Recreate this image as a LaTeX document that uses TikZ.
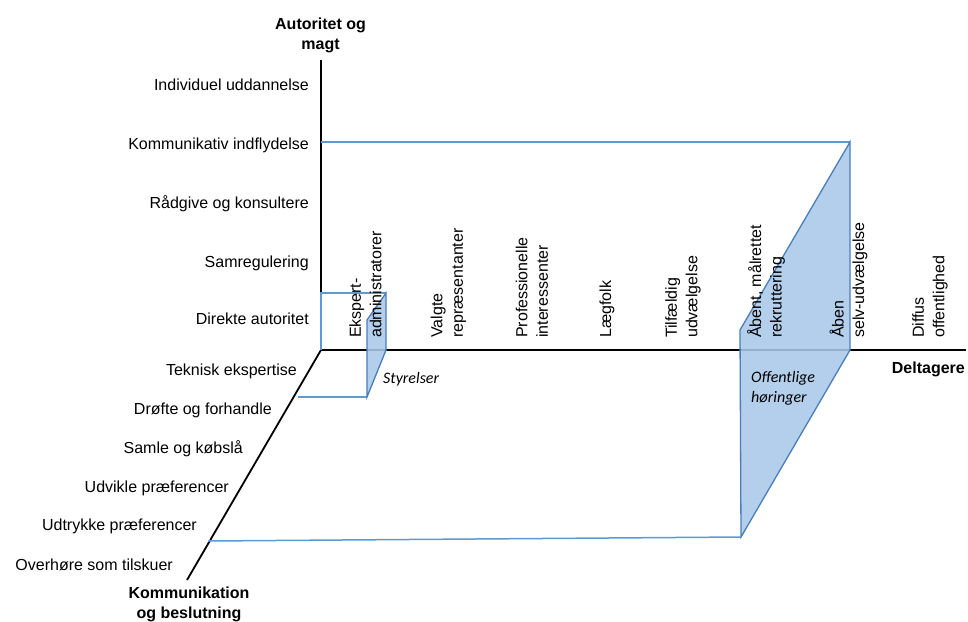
\documentclass[tikz,border=0pt]{standalone}
\usepackage{fontspec}
\setmainfont{Liberation Sans}
\newfontfamily\calib{Carlito}
\definecolor{blueline}{RGB}{91,155,213}
\definecolor{blueedge}{RGB}{74,126,187}
\definecolor{bluefill}{RGB}{168,200,233}
\begin{document}
\begin{tikzpicture}[x=1pt,y=-1pt,
  axis/.style={line width=1.8pt, black},
  bline/.style={line width=1.5pt, blueline},
  bshape/.style={line width=1.3pt, draw=blueedge, fill=bluefill, fill opacity=0.88},
  lab/.style={font=\fontsize{16}{19}\selectfont, inner sep=0pt, anchor=base east},
  rlab/.style={font=\fontsize{16}{20.5}\selectfont, inner sep=0pt, rotate=90, anchor=west, align=left},
  ttl/.style={font=\fontsize{16}{19.5}\selectfont\bfseries, inner sep=0pt, align=center},
  ital/.style={font=\calib\itshape\fontsize{16}{20}\selectfont, inner sep=0pt, align=left}]
\useasboundingbox (0,0) rectangle (968,621);
% axes
\coordinate (O) at (321,350);
\coordinate (Ytop) at (321,60);
\coordinate (Xend) at (966,350);
\coordinate (Zend) at (187,580);
\draw[axis] (Ytop) -- (O) -- (Xend);
\draw[axis] (O) -- (Zend);
% big shape (Offentlige hoeringer)
\coordinate (B1) at (321,142);
\coordinate (B2) at (850,142);
\coordinate (B3) at (850,350);
\coordinate (B4) at (741,537);
\coordinate (B5) at (740,330);
\coordinate (B6) at (208,541);
\draw[bline] (B1) -- (B2);
\draw[bline] (B4) -- (B6);
\draw[bshape] (B5) -- (B2) -- (B3) -- (B4) -- cycle;
% small shape (Styrelser)
\coordinate (S1) at (321,293);
\coordinate (S2) at (386,293);
\coordinate (S3) at (386,350);
\coordinate (S4) at (367,397);
\coordinate (S5) at (367,320);
\coordinate (S6) at (298,397);
\coordinate (S0) at (321,350);
\draw[bline] (S0) -- (S1) -- (S2);
\draw[bline] (S4) -- (S6);
\draw[bshape] (S5) -- (S2) -- (S3) -- (S4) -- cycle;
% axis titles
\node[ttl, anchor=north] (ty) at (320.5,18) {Autoritet og\\magt};
\node[ttl, anchor=north] (tz) at (189,587) {Kommunikation\\og beslutning};
\node[ttl, anchor=base east] (tx) at (965,373) {Deltagere};
% vertical axis labels
\node[lab] (v1) at (309,90) {Individuel uddannelse};
\node[lab] (v2) at (309,149) {Kommunikativ indflydelse};
\node[lab] (v3) at (309,208) {Rådgive og konsultere};
\node[lab] (v4) at (309,267) {Samregulering};
\node[lab] (v5) at (309,324) {Direkte autoritet};
% diagonal axis labels
\node[lab] (d1) at (297,375) {Teknisk ekspertise};
\node[lab] (d2) at (272,414) {Drøfte og forhandle};
\node[lab] (d3) at (243,453) {Samle og købslå};
\node[lab] (d4) at (229,492) {Udvikle præferencer};
\node[lab] (d5) at (197,530) {Udtrykke præferencer};
\node[lab] (d6) at (173,570) {Overhøre som tilskuer};
% participant labels
\node[rlab] (p1) at (365.5,338) {Ekspert-\\administratorer};
\node[rlab] (p2) at (448.5,338) {Valgte\\repræsentanter};
\node[rlab] (p3) at (532,338) {Professionelle\\interessenter};
\node[rlab] (p4) at (607,338) {Lægfolk};
\node[rlab] (p5) at (683,338) {Tilfældig\\udvælgelse};
\node[rlab] (p6) at (766,338) {Åbent, målrettet\\rekruttering};
\node[rlab] (p7) at (848.5,338) {Åben\\selv-udvælgelse};
\node[rlab] (p8) at (930,338) {Diffus\\offentlighed};
% shape labels
\node[ital, anchor=base west] (sty) at (383,383) {Styrelser};
\node[ital, anchor=north west] (off) at (751,371.5) {Offentlige\\høringer};
\end{tikzpicture}
\end{document}
